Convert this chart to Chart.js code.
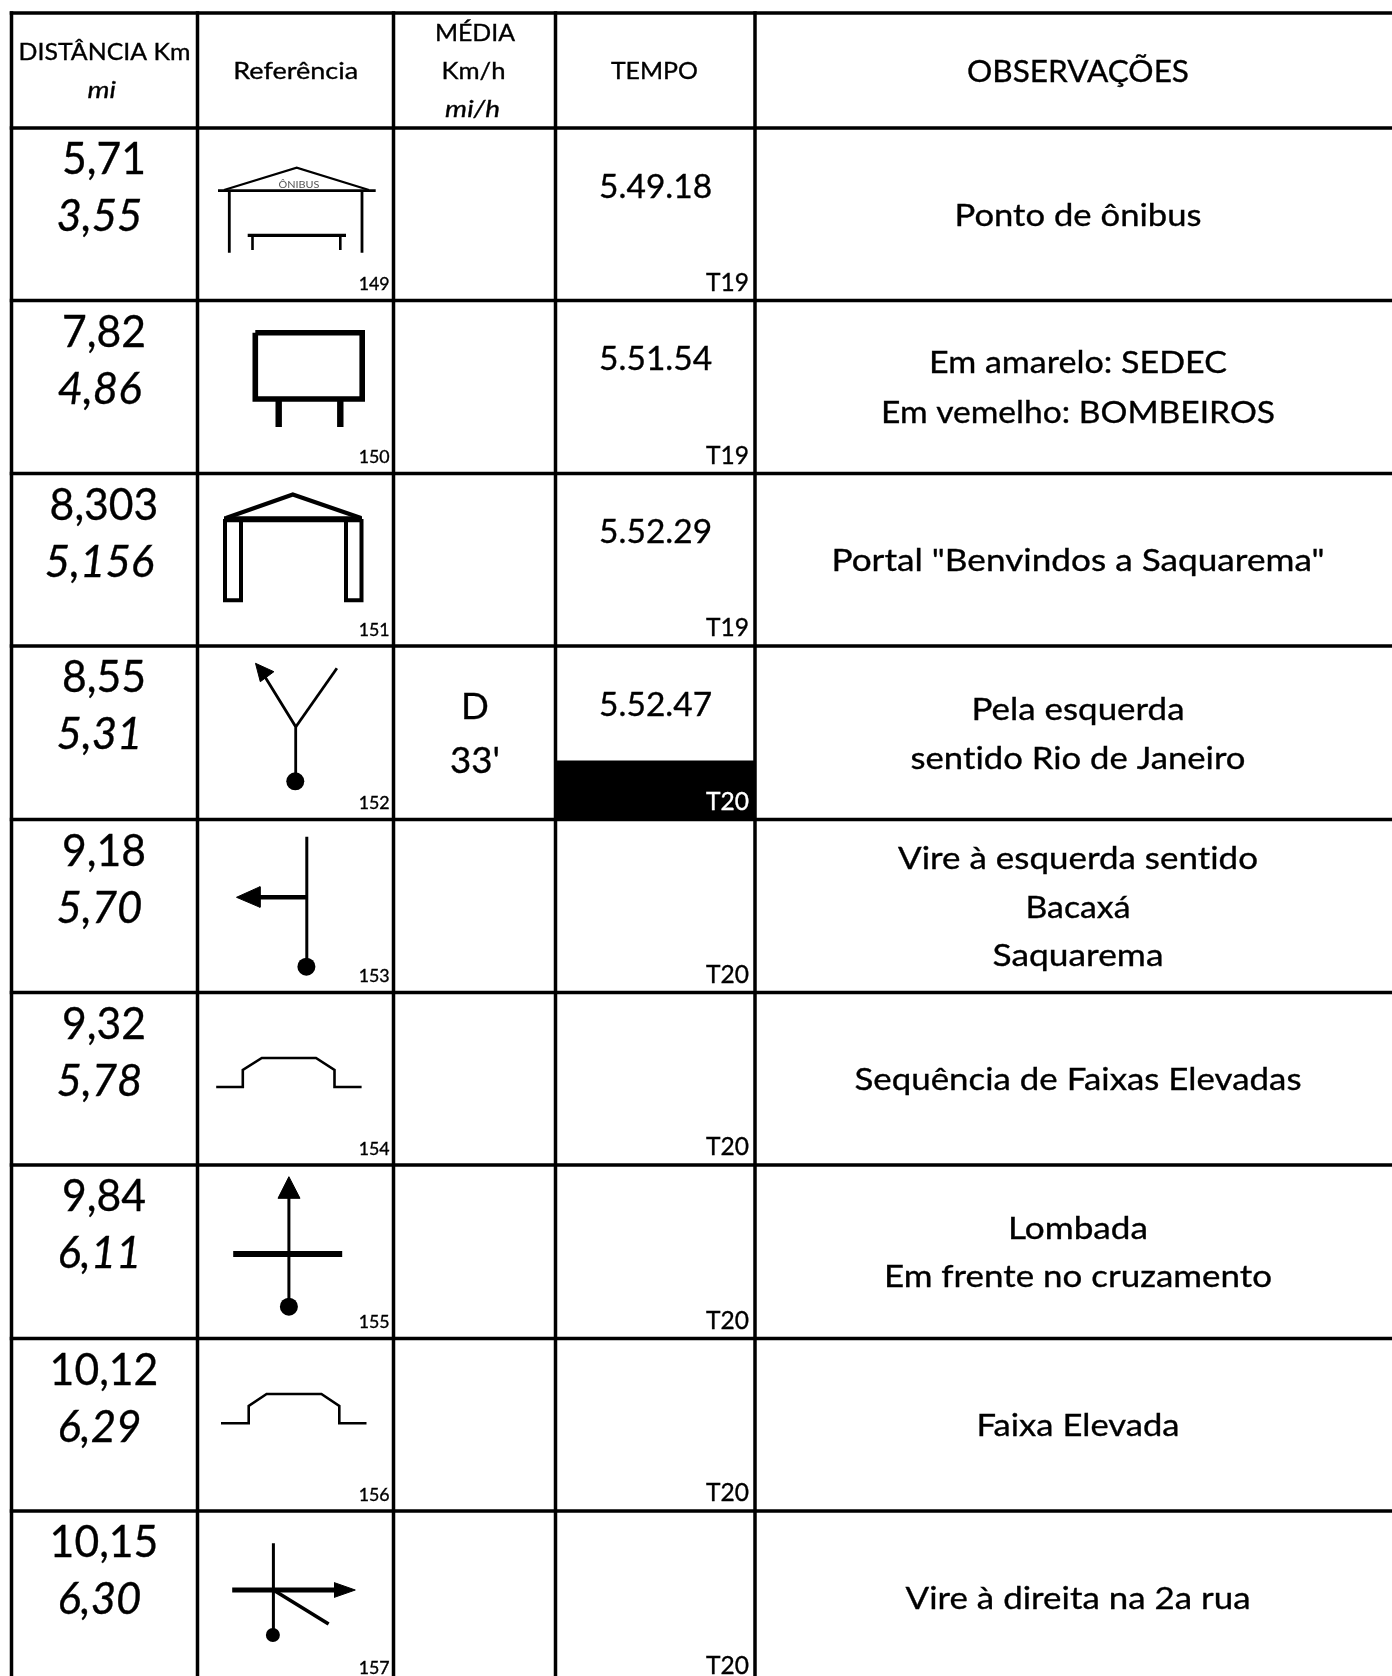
<!DOCTYPE html>
<html><head><meta charset="utf-8">
<style>html,body{margin:0;padding:0;background:#fff}canvas{display:block}</style>
<script src="https://cdn.jsdelivr.net/npm/chart.js@4/dist/chart.umd.min.js"></script>
</head><body><canvas id="c" width="1392" height="1676"></canvas>
<script>
// ---- table content ----
const headerDist = ["DISTÂNCIA Km", "mi"];
const headerRef = "Referência";
const headerMedia = ["MÉDIA", "Km/h", "mi/h"];
const headerTempo = "TEMPO";
const headerObs = "OBSERVAÇÕES";
const distKm = ["5,71","7,82","8,303","8,55","9,18","9,32","9,84","10,12","10,15"];
const distMi = ["3,55","4,86","5,156","5,31","5,70","5,78","6,11","6,29","6,30"];
const refNumbers = ["149","150","151","152","153","154","155","156","157"];
const mediaLines = [[],[],[],["D","33'"],[],[],[],[],[]];
const tempoValues = ["5.49.18","5.51.54","5.52.29","5.52.47","","","","",""];
const tempoCodes = ["T19","T19","T19","T20","T20","T20","T20","T20","T20"];
const observations = [
  ["Ponto de ônibus"],
  ["Em amarelo: SEDEC","Em vemelho: BOMBEIROS"],
  ['Portal "Benvindos a Saquarema"'],
  ["Pela esquerda","sentido Rio de Janeiro"],
  ["Vire à esquerda sentido","Bacaxá","Saquarema"],
  ["Sequência de Faixas Elevadas"],
  ["Lombada","Em frente no cruzamento"],
  ["Faixa Elevada"],
  ["Vire à direita na 2a rua"]
];
const busLabel = "ÔNIBUS";
// ---- table geometry, in the units of the two axes ----
const colEdges = [11.5,197.5,393.5,555.5,755];
const rowEdges = [13,128,300.5,473.5,646,819.5,992.5,1165,1338.5,1511];
const tableBottom = 1676, tableRight = 1392;
const obsBaselines = [[226],[373.3,422.7],[571.2],[719.7,768.9],[868.8,917.7,965.9],[1089.7],[1238.8,1286.6],[1436.2],[1608.6]];
const obsWidths = [[247],[298,394],[493],[213,335],[360,105],[447],[140,388],[203],[345]];
obsWidths[4].push(171);
const darkCellTop = 761;
// ---- pictogram strokes: [lineWidth, x1,y1, x2,y2, ...] ----
const strokes = [
  [2.6, 218,190.6, 375.7,190.6],[2.2, 224,190, 296.7,167.7, 369,190],[2.8, 229.3,190, 229.3,252.7],[2.8, 362,190, 362,252.7],
  [3.2, 247.7,235.4, 346,235.4],[2.6, 252.5,235, 252.5,250],[2.6, 340.3,235, 340.3,250],
  [5.6, 255.3,332.8, 362.2,332.8, 362.2,399, 255.3,399, 255.3,332.8],[6.4, 278.7,401, 278.7,427],[6.4, 340.3,401, 340.3,427],
  [4.2, 226,518, 292.8,494.5, 361,518],[6, 224,519.3, 362,519.3],
  [4, 225,519, 225,600.2, 241,600.2, 241,519],[4, 346,519, 346,600.2, 361.5,600.2, 361.5,519],
  [2.8, 295.7,781, 295.7,726.7, 262,672],[2.8, 295.7,727, 336.9,668.3],
  [3, 306.8,836.7, 306.8,966],[4.6, 306.8,897.3, 255,897.3],
  [2.6, 216.2,1087, 242.8,1087, 242.8,1070, 261.8,1058, 316,1058, 334.5,1070, 334.5,1087, 361.6,1087],
  [3, 288.9,1195, 288.9,1306],[6, 233.2,1254, 342.2,1254],
  [2.6, 221,1423.3, 248.7,1423.3, 248.7,1406, 266.6,1394, 321.4,1394, 339.3,1406, 339.3,1423.3, 366.5,1423.3],
  [3, 273.4,1543.3, 273.4,1634],[5, 232.2,1590, 336,1590],[3.6, 273.4,1590, 328.6,1624]
];
const arrowHeads = [
  [255.5,663.3, 273.9,671.7, 260.3,681.7],
  [236.5,897.3, 260,886.7, 260,907.3],
  [288.9,1176.7, 278,1198.3, 300,1198.3],
  [355.3,1590, 334.5,1582.7, 334.5,1597.3]
];
const dots = [[295.3,781.3,9],[306.4,966.7,9],[288.9,1306.7,9],[272.9,1635,7]];

const pairs = a => { const o=[]; for(let i=0;i<a.length;i+=2) o.push({x:a[i],y:a[i+1]}); return o; };
const lineDs = (data,w) => ({data,showLine:true,fill:false,borderColor:'#000',borderWidth:w,pointRadius:0,tension:0,borderCapStyle:'butt',borderJoinStyle:'miter',clip:false});
const shapeDs = data => ({data,showLine:true,fill:'shape',backgroundColor:'#000',borderColor:'#000',borderWidth:1,pointRadius:0,tension:0,clip:false});
const datasets = [];
datasets.push(shapeDs([{x:colEdges[3],y:darkCellTop},{x:colEdges[4],y:darkCellTop},{x:colEdges[4],y:rowEdges[5]},{x:colEdges[3],y:rowEdges[5]},{x:colEdges[3],y:darkCellTop}]));
colEdges.forEach(v=>datasets.push(lineDs([{x:v,y:rowEdges[0]-1.75},{x:v,y:tableBottom}],3.5)));
rowEdges.forEach(v=>datasets.push(lineDs([{x:colEdges[0]-1.75,y:v},{x:tableRight,y:v}],3.5)));
strokes.forEach(s=>datasets.push(lineDs(pairs(s.slice(1)),s[0])));
arrowHeads.forEach(a=>datasets.push(shapeDs(pairs(a.concat(a.slice(0,2))))));
dots.forEach(d=>datasets.push({data:[{x:d[0],y:d[1]}],showLine:false,pointStyle:'circle',pointRadius:d[2],backgroundColor:'#000',borderColor:'#000',borderWidth:0}));

const FONT = 'Lato, Carlito, sans-serif';
const classes = {
  big:{font:`45px ${FONT}`,ref:"5,71",w:84},
  bigI:{font:`italic 45px ${FONT}`,ref:"3,55",w:86},
  head:{font:`24px ${FONT}`,ref:"DISTÂNCIA Km",w:172},
  headI:{font:`italic 24px ${FONT}`,ref:"mi/h",w:55},
  headObs:{font:`31px ${FONT}`,ref:"OBSERVAÇÕES",w:222},
  time:{font:`33px ${FONT}`,ref:"5.49.18",w:113},
  media:{font:`37px ${FONT}`,ref:"33'",w:50},
  code:{font:`25px ${FONT}`,ref:"T19",w:43},
  num:{font:`18px ${FONT}`,ref:"149",w:31},
  obs:{font:`31px ${FONT}`,ref:"Em vemelho: BOMBEIROS",w:392},
  bus:{font:`10px ${FONT}`,ref:"ÔNIBUS",w:41}
};

const textPlugin = {
  id:'tableText',
  afterDatasetsDraw(chart){
    const {ctx,scales:{x,y}} = chart;
    const put = (str,cls,vx,vy,align='center',color='#000',target=null)=>{
      if(!str) return;
      const c = classes[cls];
      ctx.save();
      ctx.font = c.font;
      ctx.letterSpacing = '0.01px'; // no "ti" ligature, as in the reference
      const k = target ? target/ctx.measureText(str).width : c.w/ctx.measureText(c.ref).width;
      ctx.translate(x.getPixelForValue(vx),y.getPixelForValue(vy));
      ctx.scale(k,1);
      ctx.textAlign = align; ctx.textBaseline='alphabetic'; ctx.fillStyle=color; ctx.strokeStyle=color;
      ctx.lineWidth = cls==='bus' ? 0 : 0.35;
      ctx.fillText(str,0,0);
      if(ctx.lineWidth>0 && cls!=='bus') ctx.strokeText(str,0,0);
      ctx.restore();
    };
    put(headerDist[0],'head',104.5,60);
    put(headerDist[1],'headI',101.8,98.3);
    put(headerRef,'head',295.7,78.7,'center','#000',125);
    put(headerMedia[0],'head',475,40.7);
    put(headerMedia[1],'head',473.5,79,'center','#000',64);
    put(headerMedia[2],'headI',472.6,117.3);
    put(headerTempo,'head',654.4,78.7);
    put(headerObs,'headObs',1078,81.7);
    distKm.forEach((t,i)=>{
      const top = rowEdges[i+1];
      const bottom = i+2<rowEdges.length ? rowEdges[i+2] : top+173;
      put(t,'big',104,top+46);
      put(distMi[i],'bigI',99.5,top+103);
      put(refNumbers[i],'num',389.7,bottom-10.5,'right');
      put(tempoValues[i],'time',655.6,top+69.5);
      put(tempoCodes[i],'code',749,bottom-10,'right',i===3?'#fff':'#000');
      mediaLines[i].forEach((m,j)=>put(m,'media',475,top+72.6+j*54));
      observations[i].forEach((m,j)=>put(m,'obs',1078,obsBaselines[i][j],'center','#000',obsWidths[i][j]));
    });
    put(busLabel,'bus',299,187.7,'center','#555');
  }
};

new Chart(document.getElementById('c').getContext('2d'),{
  type:'scatter',
  data:{datasets},
  plugins:[textPlugin],
  options:{
    responsive:false,animation:false,devicePixelRatio:1,
    layout:{padding:0,autoPadding:false},
    plugins:{legend:{display:false},tooltip:{enabled:false},title:{display:false}},
    events:[],
    scales:{
      x:{type:'linear',min:0,max:tableRight,display:false,grid:{display:false}},
      y:{type:'linear',reverse:true,min:0,max:tableBottom,display:false,grid:{display:false}}
    }
  }
});
</script></body></html>
